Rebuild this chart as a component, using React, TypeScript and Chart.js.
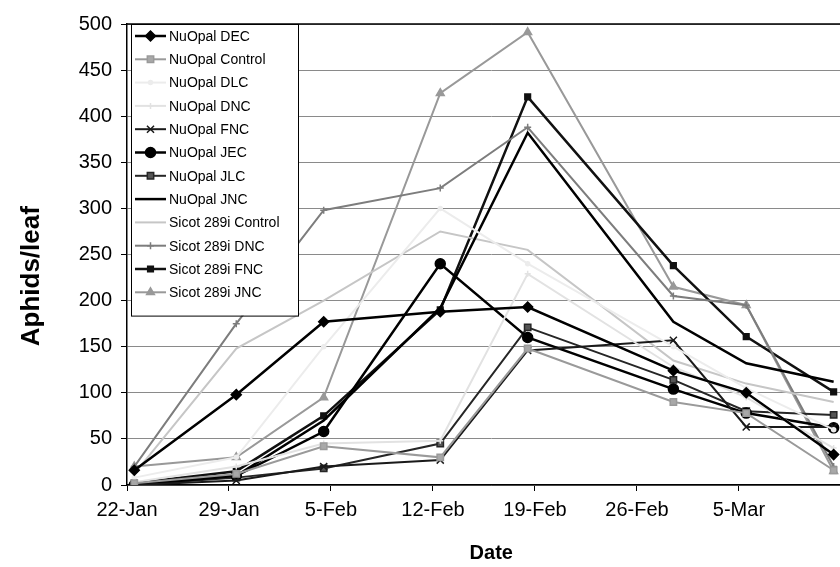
import React, { useEffect, useRef } from 'react';
import { Chart, registerables } from 'chart.js';
import { drawPoint } from 'chart.js/helpers';

Chart.register(...registerables);

// Sampling dates, as days after 22-Jan (samples taken around midday)
const sampleDays = [0.5, 7.5, 13.5, 21.5, 27.5, 37.5, 42.5, 48.5];
// Tick labels of the date axis (one per week)
const dateTickLabels = ['22-Jan', '29-Jan', '5-Feb', '12-Feb', '19-Feb', '26-Feb', '5-Mar'];
const weekDays = 7;
const yMin = 0;
const yMax = 500;
const yStep = 50;

// Aphids per leaf
const nuOpalDEC = [16, 98, 177, 188, 193, 124, 100, 33];
const nuOpalControl = [2, 12, 42, 30, 148, 90, 78, 16];
const nuOpalDLC = [8, 30, 150, 300, 240, 150, 105, 60];
const nuOpalDNC = [3, 20, 45, 48, 229, 128, 95, 40];
const nuOpalFNC = [0, 5, 20, 27, 146, 157, 63, 63];
const nuOpalJEC = [0, 10, 58, 240, 160, 104, 78, 62];
const nuOpalJLC = [0, 8, 18, 45, 171, 114, 80, 76];
const nuOpalJNC = [1, 10, 70, 192, 382, 177, 132, 112];
const sicotControl = [12, 148, 200, 275, 255, 135, 110, 90];
const sicotDNC = [20, 175, 298, 322, 388, 205, 195, 20];
const sicotFNC = [2, 15, 75, 190, 421, 238, 161, 101];
const sicotJNC = [20, 30, 95, 425, 491, 215, 195, 15];

const seriesLabels = [
  'NuOpal DEC', 'NuOpal Control', 'NuOpal DLC', 'NuOpal DNC', 'NuOpal FNC', 'NuOpal JEC',
  'NuOpal JLC', 'NuOpal JNC', 'Sicot 289i Control', 'Sicot 289i DNC', 'Sicot 289i FNC', 'Sicot 289i JNC',
];
const seriesValues = [
  nuOpalDEC, nuOpalControl, nuOpalDLC, nuOpalDNC, nuOpalFNC, nuOpalJEC,
  nuOpalJLC, nuOpalJNC, sicotControl, sicotDNC, sicotFNC, sicotJNC,
];

type Style = { color: string; fill: string; width: number; point: any; radius: number };
const seriesStyles: Style[] = [
  { color: '#000000', fill: '#000000', width: 2.5, point: 'rectRot', radius: 5 },
  { color: '#9a9a9a', fill: '#a8a8a8', width: 2, point: 'rect', radius: 4.5 },
  { color: '#ececec', fill: '#ececec', width: 2, point: 'circle', radius: 2 },
  { color: '#e2e2e2', fill: '#e2e2e2', width: 2, point: 'cross', radius: 3 },
  { color: '#1a1a1a', fill: '#1a1a1a', width: 2, point: 'crossRot', radius: 5 },
  { color: '#000000', fill: '#000000', width: 2.5, point: 'circle', radius: 5 },
  { color: '#262626', fill: '#555555', width: 2, point: 'rect', radius: 4.5 },
  { color: '#000000', fill: '#000000', width: 2.5, point: false, radius: 0 },
  { color: '#c6c6c6', fill: '#c6c6c6', width: 2, point: false, radius: 0 },
  { color: '#7d7d7d', fill: '#7d7d7d', width: 2, point: 'cross', radius: 3.5 },
  { color: '#111111', fill: '#111111', width: 2.5, point: 'rect', radius: 4 },
  { color: '#999999', fill: '#999999', width: 2, point: 'triangle', radius: 4.5 },
];

const FONT = '"Liberation Sans", Arial, sans-serif';

const topBorder = {
  id: 'topBorder',
  beforeDatasetsDraw(chart: any) {
    const { ctx, chartArea } = chart;
    ctx.save();
    ctx.strokeStyle = '#000';
    ctx.lineWidth = 1.5;
    ctx.beginPath();
    ctx.moveTo(chartArea.left, chartArea.top);
    ctx.lineTo(chartArea.right, chartArea.top);
    ctx.stroke();
    ctx.restore();
  },
};

const insetLegend = {
  id: 'insetLegend',
  afterDatasetsDraw(chart: any) {
    const { ctx, chartArea } = chart;
    const left = chartArea.left + 4;
    const top = chartArea.top;
    const width = 167;
    const rowH = 23.3;
    const n = chart.data.datasets.length;
    const height = 12 + rowH * n;
    ctx.save();
    ctx.fillStyle = '#fff';
    ctx.fillRect(left, top, width, height);
    ctx.strokeStyle = '#000';
    ctx.lineWidth = 1;
    ctx.strokeRect(left + 0.5, top + 0.5, width, height);
    chart.data.datasets.forEach((ds: any, i: number) => {
      const y = top + 12 + rowH * i;
      ctx.strokeStyle = ds.borderColor;
      ctx.lineWidth = ds.borderWidth;
      ctx.beginPath();
      ctx.moveTo(left + 4, y);
      ctx.lineTo(left + 35, y);
      ctx.stroke();
      if (ds.pointRadius > 0) {
        ctx.fillStyle = ds.pointBackgroundColor;
        ctx.strokeStyle = ds.pointBorderColor;
        ctx.lineWidth = ds.pointBorderWidth;
        drawPoint(ctx, { pointStyle: ds.pointStyle, radius: ds.pointRadius, borderWidth: ds.pointBorderWidth, rotation: 0 } as any, left + 19.5, y);
      }
      ctx.fillStyle = '#000';
      ctx.font = `14px ${FONT}`;
      ctx.textBaseline = 'middle';
      ctx.textAlign = 'left';
      ctx.fillText(ds.label, left + 38, y + 1);
    });
    ctx.restore();
  },
};

export default function App() {
  const ref = useRef<HTMLCanvasElement | null>(null);

  useEffect(() => {
    if (!ref.current) return;
    const datasets = seriesValues.map((vals, s) => {
      const st = seriesStyles[s];
      return {
        label: seriesLabels[s],
        data: vals.map((v, i) => ({ x: sampleDays[i], y: v })),
        borderColor: st.color,
        backgroundColor: st.fill,
        borderWidth: st.width,
        pointStyle: st.point,
        pointRadius: st.radius,
        pointBackgroundColor: st.fill,
        pointBorderColor: st.color,
        pointBorderWidth: 1.5,
        tension: 0,
      };
    });

    const chart = new Chart(ref.current, {
      type: 'line',
      data: { datasets },
      plugins: [topBorder, insetLegend],
      options: {
        responsive: false,
        animation: false,
        devicePixelRatio: 1,
        layout: { padding: { top: 24, right: 0, left: 0, bottom: 0 } },
        plugins: { legend: { display: false }, tooltip: { enabled: false } },
        scales: {
          x: {
            type: 'linear',
            position: 'bottom',
            min: 0,
            max: 50,
            afterBuildTicks: (scale: any) => {
              const t = [];
              for (let d = 0; d <= 49; d += weekDays) t.push({ value: d });
              scale.ticks = t;
            },
            afterFit: (scale: any) => { scale.height = 82; },
            ticks: {
              autoSkip: false,
              maxRotation: 0,
              padding: 7,
              color: '#000',
              font: { family: FONT, size: 20 },
              callback: (_v: any, i: number) => dateTickLabels[i] ?? '',
            },
            grid: { display: true, drawOnChartArea: false, drawTicks: true, tickLength: 6, color: '#000', tickColor: '#000' },
            border: { display: true, color: '#000', width: 1.5 },
            title: {
              display: true,
              text: 'Date',
              color: '#000',
              font: { family: FONT, size: 20, weight: 'bold' },
              padding: { top: 0, bottom: 2 },
            },
          },
          y: {
            type: 'linear',
            min: yMin,
            max: yMax,
            afterFit: (scale: any) => { scale.width = 127; },
            ticks: {
              stepSize: yStep,
              padding: 9,
              color: '#000',
              font: { family: FONT, size: 20 },
            },
            grid: { color: '#8a8a8a', lineWidth: 1, tickLength: 6, tickColor: '#000' },
            border: { display: true, color: '#000', width: 1.5 },
            title: {
              display: true,
              text: 'Aphids/leaf      ',
              color: '#000',
              font: { family: FONT, size: 26, weight: 'bold' },
              padding: { top: 16, bottom: 0 },
            },
          },
        },
      },
    });
    return () => chart.destroy();
  }, []);

  return (
    <div style={{ position: 'fixed', left: 0, top: 0, width: 840, height: 567, overflow: 'hidden', background: '#fff' }}>
      <canvas ref={ref} width={862} height={567} style={{ display: 'block' }} />
    </div>
  );
}
